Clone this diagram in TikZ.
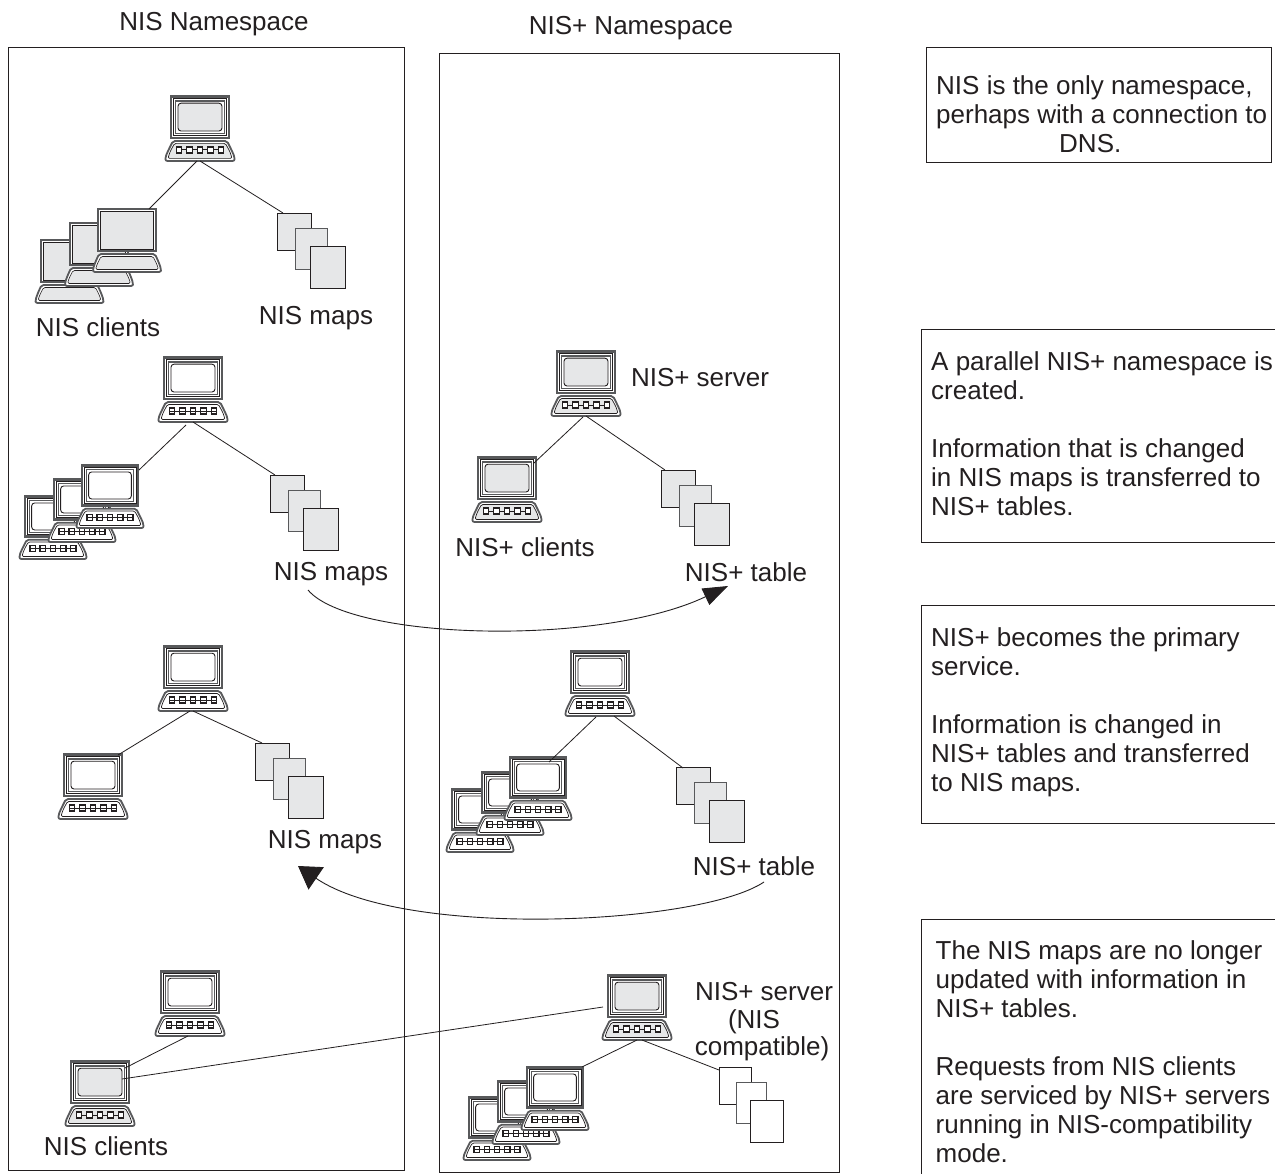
\documentclass[tikz,border=0pt]{standalone}
\usepackage{fontspec}
\setmainfont{Liberation Sans}
\usetikzlibrary{arrows.meta}
\definecolor{ink}{HTML}{231F20}
\definecolor{scr}{HTML}{E6E7E8}
\definecolor{rim}{HTML}{58595B}
\newcommand{\lapbody}[1]{%
  \draw[rim,line width=2.3,fill=white] (-28.8,0.6) rectangle (28.8,41.8);
  \draw[ink,line width=.7] (-26.8,2.8) rectangle (26.8,39.6);
  \draw[rim,line width=1.1] (-24.6,5) rectangle (24.6,37.4);
  \draw[ink,line width=.9,rounded corners=3pt,fill=#1] (-22,7.2) rectangle (22,35);
  \draw[rim,line width=1.8,line join=round,fill=white,rounded corners=2pt] (-27,45) -- (27,45) -- (31.5,54) -- (34.6,61) -- (34.6,65) -- (-34.6,65) -- (-34.6,61) -- (-31.5,54) -- cycle;
  \draw[ink,line width=.7,line join=round,fill=#1,rounded corners=1.5pt] (-25.4,47.4) -- (25.4,47.4) -- (29.6,55) -- (32.2,62.4) -- (-32.2,62.4) -- (-29.6,55) -- cycle;
  \draw[ink,line width=1] (-24,54) -- (24,54);
  \foreach \k in {-21,-10.5,0,10.5,21}{\draw[ink,line width=1.2,fill=white] (\k-2.8,51) rectangle (\k+2.8,57);}
  \coordinate (-b) at (0,65); \coordinate (-t) at (0,0);
}
\tikzset{
  frame/.style={draw=ink,line width=.8},
  conn/.style={draw=ink,line width=.8},
  flowa/.style={draw=ink,line width=.9,-{Triangle[length=25pt,width=18pt]}},
  flowb/.style={draw=ink,line width=.9,-{Triangle[length=22pt,width=27pt]}},
  lbl/.style={font=\fontsize{26}{29}\selectfont,text=ink,inner sep=0pt,align=center},
  lbltight/.style={font=\fontsize{26}{27.5}\selectfont,text=ink,inner sep=0pt,align=center},
  note/.style={font=\fontsize{26}{29}\selectfont,text=ink,inner sep=0pt,align=left,anchor=north west},
  graylap/.pic={\lapbody{scr}},
  whitelap/.pic={\lapbody{white}
    \draw[ink,line width=.9] (-24,54) -- (24,54);
  },
  plainlap/.pic={
    \draw[rim,line width=2,fill=white] (-28.6,0.5) rectangle (28.6,42.5);
    \draw[ink,line width=.7,fill=scr] (-26.2,2.8) rectangle (26.2,40.2);
    \draw[rim,line width=1.8,line join=round,fill=white,rounded corners=2pt] (-28,45) -- (28,45) -- (32,54) -- (34,60) -- (34,63) -- (-34,63) -- (-34,60) -- (-32,54) -- cycle;
    \draw[ink,line width=.6,line join=round,fill=scr,rounded corners=1.5pt] (-26,47.5) -- (26,47.5) -- (30,55.5) -- (31.5,60.5) -- (-31.5,60.5) -- (-30,55.5) -- cycle;
    \coordinate (-t) at (0,0);
  },
  pages/.pic={
    \draw[ink,line width=.8,fill=#1] (0,0) rectangle (34,37);
    \draw[rim,line width=.9,fill=#1] (18,15) rectangle (50,56);
    \draw[ink,line width=.8,fill=#1] (33,33) rectangle (68,75);
    \coordinate (-a) at (0,0);
  }
}
\begin{document}
\begin{tikzpicture}[x=1pt,y=-1pt]
\clip (0,0) rectangle (1275,1174);
\fill[white] (0,0) rectangle (1275,1174);
% column frames
\node[lbl] (hNis) at (214,24) {NIS Namespace};
\node[lbl] (hPlus) at (631,28) {NIS+ Namespace};
\draw[frame] (8.4,47) rectangle (404.4,1170);
\draw[frame] (439.4,53) rectangle (839,1172);
% right notes
\draw[frame] (926,47) rectangle (1271,162);
\draw[frame] (921,329) rectangle (1290,542);
\draw[frame] (921,605) rectangle (1290,823);
\draw[frame] (921,919) rectangle (1290,1190);
\node[note] (n1) at (936,75) {NIS is the only namespace,\\perhaps with a connection to\\\hspace*{123pt}DNS.};
\node[note] (n2) at (931,351) {A parallel NIS+ namespace is\\created.\\[29pt]Information that is changed\\in NIS maps is transferred to\\NIS+ tables.};
\node[note] (n3) at (931,627) {NIS+ becomes the primary\\service.\\[29pt]Information is changed in\\NIS+ tables and transferred\\to NIS maps.};
\node[note] (n4) at (935.5,940) {The NIS maps are no longer\\updated with information in\\NIS+ tables.\\[29pt]Requests from NIS clients\\are serviced by NIS+ servers\\running in NIS-compatibility\\mode.};
% row 1 left
\pic (a0) at (200,96) {graylap};
\pic (a3) at (69.5,240) {plainlap};
\pic (a2) at (99,223) {plainlap};
\pic (a1) at (127,209) {plainlap};
\pic (ap) at (277,213) {pages=scr};
\draw[conn] ([shift={(-3,0)}]a0-b) -- ([shift={(22,0)}]a1-t);
\draw[conn] (a0-b) -- ([shift={(6,0)}]ap-a);
\node[lbl] at (98,327) {NIS clients};
\node[lbl] at (316,318) {NIS maps};
% row 2 left
\pic (b0) at (193,357) {whitelap};
\pic[scale=.97] (b3) at (53,496) {whitelap};
\pic[scale=.97] (b2) at (82,479) {whitelap};
\pic[scale=.97] (b1) at (110,465) {whitelap};
\pic (bp) at (270,475) {pages=scr};
\draw[conn] ([shift={(-7,3)}]b0-b) -- ([shift={(29,5)}]b1-t);
\draw[conn] (b0-b) -- ([shift={(5,0)}]bp-a);
\node[lbl] (bm) at (331,574) {NIS maps};
% row 2 right
\pic (c0) at (586,351) {graylap};
\pic (c1) at (507,457) {graylap};
\pic (cp) at (661,470) {pages=scr};
\draw[conn] ([shift={(-3,1)}]c0-b) -- ([shift={(27,6)}]c1-t);
\draw[conn] (c0-b) -- ([shift={(4,0)}]cp-a);
\node[lbl] at (700,378) {NIS+ server};
\node[lbl] at (525,547) {NIS+ clients};
\node[lbl] (ct) at (746,572) {NIS+ table};
\draw[flowa] ([shift={(-23,16)}]bm.center) .. controls +(42,50) and ([shift={(-146,75)}]ct.center) .. ([shift={(-18,14)}]ct.center);
% row 3 left
\pic (d0) at (193,646) {whitelap};
\pic (d1) at (93,754) {whitelap};
\pic (dp) at (255,743) {pages=scr};
\draw[conn] ([shift={(-3,0)}]d0-b) -- ([shift={(25,1)}]d1-t);
\draw[conn] (d0-b) -- ([shift={(7,0)}]dp-a);
\node[lbl] (dm) at (325,842) {NIS maps};
% row 3 right
\pic (e0) at (600,651) {whitelap};
\pic[scale=.97] (e3) at (480,789) {whitelap};
\pic[scale=.97] (e2) at (510,772) {whitelap};
\pic[scale=.97] (e1) at (538,757) {whitelap};
\pic (ep) at (676,767) {pages=scr};
\draw[conn] ([shift={(-4,1)}]e0-b) -- ([shift={(11,5)}]e1-t);
\draw[conn] ([shift={(14,0)}]e0-b) -- ([shift={(7,1)}]ep-a);
\node[lbl] (et) at (754,866) {NIS+ table};
\draw[flowb] ([shift={(10,16)}]et.center) .. controls +(-64,43) and ([shift={(80,97)}]dm.center) .. ([shift={(-27,24)}]dm.center);
% row 4 left
\pic (f0) at (190,971) {whitelap};
\pic (f1) at (100,1061) {graylap};
\draw[conn] ([shift={(-2,0)}]f0-b) -- ([shift={(25,7)}]f1-t);
\node[lbl] at (106,1146) {NIS clients};
% row 4 right
\pic (g0) at (637,975) {graylap};
\pic[scale=.97] (g3) at (497,1097) {whitelap};
\pic[scale=.97] (g2) at (526,1081) {whitelap};
\pic[scale=.97] (g1) at (555,1067) {whitelap};
\pic[xscale=.95] (gp) at (719,1067) {pages=white};
\draw[conn] (g0-b) -- ([shift={(27,0)}]g1-t);
\draw[conn] ([shift={(5,0)}]g0-b) -- ([shift={(0,3)}]gp-a);
\draw[conn] ([shift={(-34,32)}]g0-t) -- ([shift={(22,18)}]f1-t);
\node[lbltight] at (764,1022) {NIS+ server\\\hspace*{-20pt}(NIS\\\hspace*{-4pt}compatible)};
\end{tikzpicture}
\end{document}
